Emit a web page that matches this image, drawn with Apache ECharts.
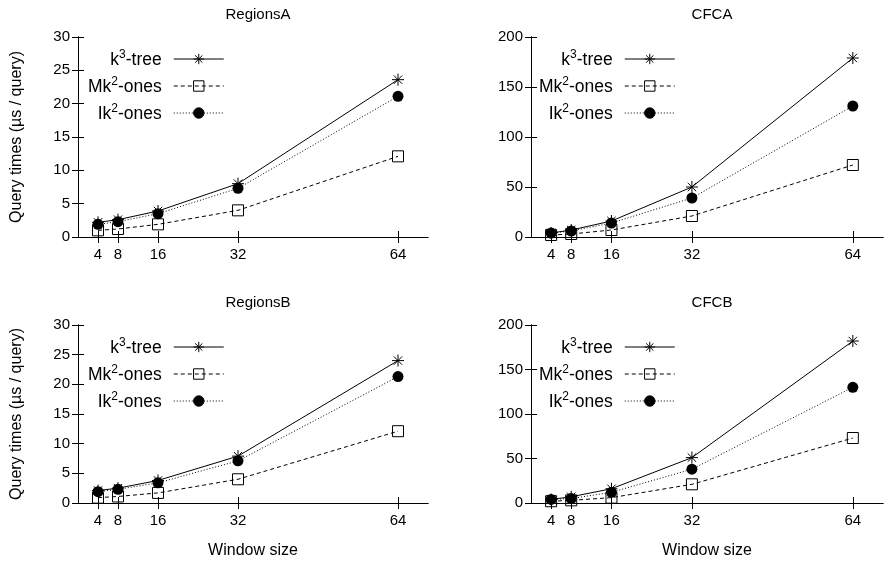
<!DOCTYPE html>
<html>
<head>
<meta charset="utf-8">
<script src="https://cdn.jsdelivr.net/npm/echarts@6/dist/echarts.min.js"></script>
<style>html,body{margin:0;padding:0;background:#fff}#c{width:886px;height:564px}</style>
</head>
<body>
<div id="c"></div>
<script>
// ---- data ----
var windowSizes = [4, 8, 16, 32, 64];
var xTicks = [4, 8, 16, 32, 64];
var panelTitles = ['RegionsA', 'CFCA', 'RegionsB', 'CFCB'];
var seriesNames = ['k3-tree', 'Mk2-ones', 'Ik2-ones'];

var regionsA_k3  = [2.2, 2.6, 3.9, 8.0, 23.6];
var regionsA_mk2 = [1.0, 1.2, 1.9, 4.0, 12.1];
var regionsA_ik2 = [1.9, 2.3, 3.5, 7.3, 21.1];

var cfca_k3  = [4, 7, 16, 50, 179];
var cfca_mk2 = [2, 3, 7, 21, 72];
var cfca_ik2 = [4, 6, 14, 39, 131];

var regionsB_k3  = [2.1, 2.5, 3.8, 7.9, 24.0];
var regionsB_mk2 = [0.9, 1.1, 1.7, 4.0, 12.1];
var regionsB_ik2 = [1.9, 2.3, 3.4, 7.1, 21.3];

var cfcb_k3  = [4, 7, 16, 51, 182];
var cfcb_mk2 = [2, 3, 6, 21, 73];
var cfcb_ik2 = [4, 5, 12, 38, 130];

var yMaxRegions = 30, yStepRegions = 5;
var yMaxCFC = 200, yStepCFC = 50;

// ---- layout ----
var FONT = 'Liberation Sans, Arial, sans-serif';
var panels = [
  {grid: {left: 78, top: 37, width: 350, height: 200}, ymax: yMaxRegions, ystep: yStepRegions, data: [regionsA_k3, regionsA_mk2, regionsA_ik2], ylabel: true, xlabel: false, legend: {left: 88, top: 49}},
  {grid: {left: 531, top: 37, width: 352, height: 200}, ymax: yMaxCFC, ystep: yStepCFC, data: [cfca_k3, cfca_mk2, cfca_ik2], ylabel: false, xlabel: false, legend: {left: 539, top: 49}},
  {grid: {left: 78, top: 325, width: 350, height: 178}, ymax: yMaxRegions, ystep: yStepRegions, data: [regionsB_k3, regionsB_mk2, regionsB_ik2], ylabel: true, xlabel: true, legend: {left: 88, top: 337}},
  {grid: {left: 531, top: 325, width: 352, height: 178}, ymax: yMaxCFC, ystep: yStepCFC, data: [cfcb_k3, cfcb_mk2, cfcb_ik2], ylabel: false, xlabel: true, legend: {left: 539, top: 337}}
];

var ASTERISK = 'path://M5 0L5 10M0 5L10 5M1.5 1.5L8.5 8.5M1.5 8.5L8.5 1.5';
var styles = [
  {symbol: ASTERISK, symbolSize: 12, lineType: 'solid', itemStyle: {color: '#000', borderColor: '#000', borderWidth: 1}},
  {symbol: 'rect', symbolSize: 11, lineType: [4, 3], itemStyle: {color: 'rgba(0,0,0,0)', borderColor: '#000', borderWidth: 1}},
  {symbol: 'circle', symbolSize: 11, lineType: [1, 2], itemStyle: {color: '#000', borderColor: '#000', borderWidth: 0}}
];

var legendRich = {
  n: {fontSize: 17.5, fontFamily: FONT, color: '#000', lineHeight: 20, verticalAlign: 'bottom'},
  s: {fontSize: 12, fontFamily: FONT, color: '#000', lineHeight: 12, verticalAlign: 'top'},
  g: {width: 7}
};
var legendLabels = {
  'k3-tree': '{n|k}{s|3}{n|-tree}{g|}',
  'Mk2-ones': '{n|Mk}{s|2}{n|-ones}{g|}',
  'Ik2-ones': '{n|Ik}{s|2}{n|-ones}{g|}'
};

var option = {
  backgroundColor: '#fff',
  animation: false,
  title: [], grid: [], xAxis: [], yAxis: [], series: [], legend: []
};

panels.forEach(function (p, i) {
  option.grid.push(p.grid);
  option.title.push({
    text: panelTitles[i],
    left: p.grid.left + p.grid.width / 2,
    top: p.grid.top - 35,
    textAlign: 'center',
    textStyle: {fontSize: 15, fontWeight: 'normal', fontFamily: FONT, color: '#000'}
  });
  var axisLine = {show: true, lineStyle: {color: '#000', width: 1}};
  option.xAxis.push({
    type: 'value', gridIndex: i, min: 0, max: 70, position: 'bottom',
    axisLine: axisLine,
    axisTick: {show: true, inside: true, length: 6, customValues: xTicks, lineStyle: {color: '#000'}},
    axisLabel: {show: true, customValues: xTicks, color: '#000', fontSize: 15, fontFamily: FONT, margin: 10},
    splitLine: {show: false},
    name: p.xlabel ? 'Window size' : '',
    nameLocation: 'middle', nameGap: 40,
    nameTextStyle: {fontSize: 16, fontFamily: FONT, color: '#000'}
  });
  option.xAxis.push({
    type: 'value', gridIndex: i, min: 0, max: 70, position: 'top',
    axisLine: axisLine,
    axisTick: {show: true, inside: true, length: 6, customValues: xTicks, lineStyle: {color: '#000'}},
    axisLabel: {show: false}, splitLine: {show: false}
  });
  option.yAxis.push({
    type: 'value', gridIndex: i, min: 0, max: p.ymax, interval: p.ystep, position: 'left',
    axisLine: axisLine,
    axisTick: {show: true, inside: true, length: 6, lineStyle: {color: '#000'}},
    axisLabel: {show: true, color: '#000', fontSize: 15, fontFamily: FONT, margin: 8},
    splitLine: {show: false},
    name: p.ylabel ? 'Query times (\u00b5s / query)' : '',
    nameLocation: 'middle', nameGap: 53,
    nameTextStyle: {fontSize: 16, fontFamily: FONT, color: '#000'}
  });
  option.yAxis.push({
    type: 'value', gridIndex: i, min: 0, max: p.ymax, interval: p.ystep, position: 'right',
    axisLine: axisLine,
    axisTick: {show: true, inside: true, length: 6, lineStyle: {color: '#000'}},
    axisLabel: {show: false}, splitLine: {show: false}
  });
  p.data.forEach(function (vals, k) {
    var st = styles[k];
    option.series.push({
      type: 'line', name: seriesNames[k],
      xAxisIndex: 2 * i, yAxisIndex: 2 * i,
      data: windowSizes.map(function (x, j) { return [x, vals[j]]; }),
      symbol: st.symbol, symbolSize: st.symbolSize,
      lineStyle: {color: '#000', width: 1, type: st.lineType},
      itemStyle: st.itemStyle,
      emphasis: {disabled: true},
      z: 3 - k
    });
  });
  option.legend.push({
    orient: 'vertical', align: 'right',
    left: p.legend.left, top: p.legend.top,
    padding: 0, itemGap: 7, itemWidth: 50, itemHeight: 13,
    selectedMode: false,
    data: seriesNames,
    lineStyle: {width: 1},
    itemStyle: {borderWidth: 1},
    formatter: function (name) { return legendLabels[name]; },
    textStyle: {color: '#000', fontSize: 17.5, fontFamily: FONT, rich: legendRich}
  });
});

var chart = echarts.init(document.getElementById('c'), null, {renderer: 'canvas'});
chart.setOption(option);
</script>
</body>
</html>
